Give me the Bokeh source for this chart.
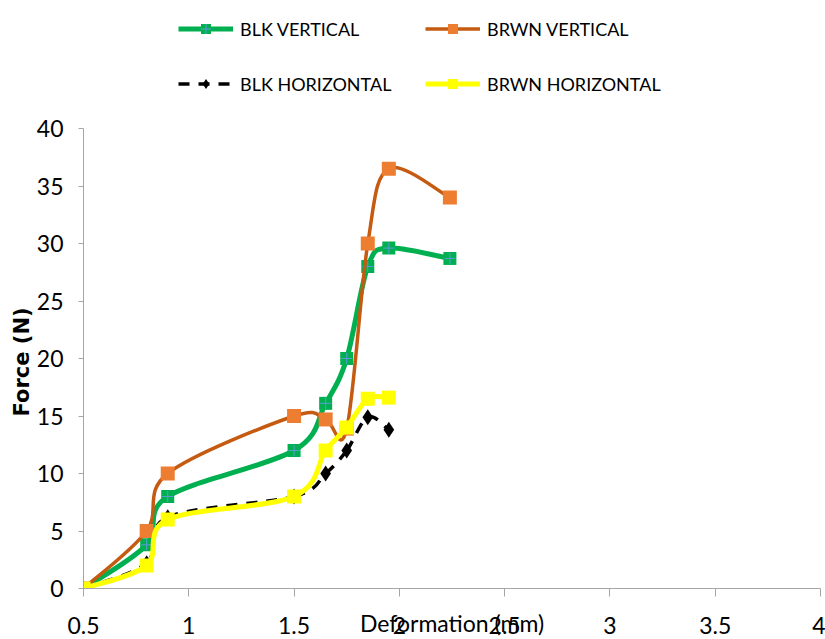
from bokeh.plotting import figure
from bokeh.models import Legend, LegendItem, FixedTicker, Range1d, Title
from bokeh.embed import file_html
from bokeh.resources import INLINE

# ---- data ----
blk_v_x = [0.5, 0.8, 0.9, 1.5, 1.65, 1.75, 1.85, 1.95, 2.24]
blk_v_y = [0, 3.8, 8.0, 12.0, 16.1, 20.0, 28.0, 29.6, 28.7]

brwn_v_x = [0.5, 0.8, 0.9, 1.5, 1.65, 1.75, 1.85, 1.95, 2.24]
brwn_v_y = [0, 5.0, 10.0, 15.0, 14.7, 13.9, 30.0, 36.5, 34.0]

blk_h_x = [0.5, 0.8, 0.9, 1.5, 1.65, 1.75, 1.85, 1.95]
blk_h_y = [0, 2.2, 6.2, 8.0, 10.0, 12.0, 14.9, 13.8]

brwn_h_x = [0.5, 0.8, 0.9, 1.5, 1.65, 1.75, 1.85, 1.95]
brwn_h_y = [0, 2.0, 6.0, 8.0, 12.0, 14.0, 16.5, 16.6]

x_ticks = [0.5, 1, 1.5, 2, 2.5, 3, 3.5, 4]
x_tick_labels = ["0.5", "1", "1.5", "2", "2.5", "3", "3.5", "4"]
y_ticks = [0, 5, 10, 15, 20, 25, 30, 35, 40]

FONT = "Lato"
AXIS_GREY = "#a6a6a6"

# layout: the axis runs 0..40 over 460px; the frame extends above it for the legend
FRAME_H = 588
AXIS_H = 460
Y_TOP = 40 * FRAME_H / AXIS_H


def smooth_segments(xs, ys):
    """Bezier segments through the data points (Excel-style smoothed line)."""
    n = len(xs)
    seg = dict(x0=[], y0=[], x1=[], y1=[], cx0=[], cy0=[], cx1=[], cy1=[])
    for i in range(n - 1):
        a = i - 1 if i > 0 else i
        d = i + 2 if i + 2 < n else i + 1
        seg["x0"].append(xs[i]); seg["y0"].append(ys[i])
        seg["x1"].append(xs[i + 1]); seg["y1"].append(ys[i + 1])
        seg["cx0"].append(xs[i] + (xs[i + 1] - xs[a]) / 6.0)
        seg["cy0"].append(ys[i] + (ys[i + 1] - ys[a]) / 6.0)
        seg["cx1"].append(xs[i + 1] - (xs[d] - xs[i]) / 6.0)
        seg["cy1"].append(ys[i + 1] - (ys[d] - ys[i]) / 6.0)
    return seg


p = figure(width=825, height=639, output_backend="svg", toolbar_location=None,
           x_range=Range1d(0.5, 4), y_range=Range1d(0, Y_TOP),
           min_border_left=83, min_border_right=5, min_border_top=0,
           min_border_bottom=51)
p.outline_line_color = None
p.xgrid.visible = False
p.ygrid.visible = False
p.background_fill_color = "white"
p.border_fill_color = "white"

# axes
xa = p.xaxis[0]
xa.ticker = FixedTicker(ticks=x_ticks)
xa.major_label_overrides = {t: s for t, s in zip(x_ticks, x_tick_labels)}
xa.minor_tick_line_color = None
xa.major_tick_in = 0
xa.major_tick_out = 8
xa.axis_line_color = AXIS_GREY
xa.major_tick_line_color = AXIS_GREY
xa.major_label_text_font = FONT
xa.major_label_text_font_size = "23px"
xa.major_label_text_color = "black"
xa.major_label_standoff = 20
xa.axis_label = "Deformation (mm)"
xa.axis_label_text_font = FONT
xa.axis_label_text_font_size = "23px"
xa.axis_label_text_font_style = "normal"
xa.axis_label_text_color = "black"
xa.axis_label_standoff = -28

ya = p.yaxis[0]
ya.ticker = FixedTicker(ticks=y_ticks)
ya.bounds = (0, 40)
ya.minor_tick_line_color = None
ya.major_tick_in = 0
ya.major_tick_out = 5
ya.axis_line_color = AXIS_GREY
ya.major_tick_line_color = AXIS_GREY
ya.major_label_text_font = FONT
ya.major_label_text_font_size = "23px"
ya.major_label_text_color = "black"
ya.major_label_standoff = 15

# y axis title, centred on the 0..40 span of the axis
ytitle = Title(text="Force (N)", align="left", offset=FRAME_H - 416,
               text_font="DejaVu Sans", text_font_size="21px",
               text_font_style="bold", text_color="black", standoff=0)
p.add_layout(ytitle, "left")

items = []

# BLK VERTICAL
s = smooth_segments(blk_v_x, blk_v_y)
b1 = p.bezier(source=s, x0="x0", y0="y0", x1="x1", y1="y1", cx0="cx0", cy0="cy0",
              cx1="cx1", cy1="cy1", line_color="#00B050", line_width=5)
m1 = p.scatter(blk_v_x, blk_v_y, marker="square", size=13, fill_color="#00B050",
               line_color=None)
c1 = p.scatter(blk_v_x, blk_v_y, marker="cross", size=11, line_color="#5B9BD5",
               line_width=1)
items.append(LegendItem(label="BLK VERTICAL", renderers=[b1, m1, c1]))

# BRWN VERTICAL
s = smooth_segments(brwn_v_x, brwn_v_y)
b2 = p.bezier(source=s, x0="x0", y0="y0", x1="x1", y1="y1", cx0="cx0", cy0="cy0",
              cx1="cx1", cy1="cy1", line_color="#C55A11", line_width=3.5)
m2 = p.scatter(brwn_v_x, brwn_v_y, marker="square", size=14, fill_color="#ED7D31",
               line_color=None)
items.append(LegendItem(label="BRWN VERTICAL", renderers=[b2, m2]))

# BLK HORIZONTAL
s = smooth_segments(blk_h_x, blk_h_y)
b3 = p.bezier(source=s, x0="x0", y0="y0", x1="x1", y1="y1", cx0="cx0", cy0="cy0",
              cx1="cx1", cy1="cy1", line_color="black", line_width=3.5,
              line_dash="11 9")
m3 = p.scatter(blk_h_x, blk_h_y, marker="diamond", size=16, fill_color="black",
               line_color=None)
items.append(LegendItem(label="BLK HORIZONTAL", renderers=[b3, m3]))

# BRWN HORIZONTAL
s = smooth_segments(brwn_h_x, brwn_h_y)
b4 = p.bezier(source=s, x0="x0", y0="y0", x1="x1", y1="y1", cx0="cx0", cy0="cy0",
              cx1="cx1", cy1="cy1", line_color="#FFFF00", line_width=5)
m4 = p.scatter(brwn_h_x, brwn_h_y, marker="square", size=14, fill_color="#FFFF00",
               line_color=None)
items.append(LegendItem(label="BRWN HORIZONTAL", renderers=[b4, m4]))

legend = Legend(items=items, location=(95, 492), orientation="horizontal",
                ncols=2, glyph_width=55, glyph_height=25, label_standoff=7,
                label_width=155, spacing=30, padding=0, margin=0,
                border_line_color=None, background_fill_alpha=0,
                label_text_font=FONT, label_text_font_size="18px",
                label_text_color="black", label_height=25)
p.add_layout(legend, "center")

open("out.html", "w").write(file_html(p, INLINE))
